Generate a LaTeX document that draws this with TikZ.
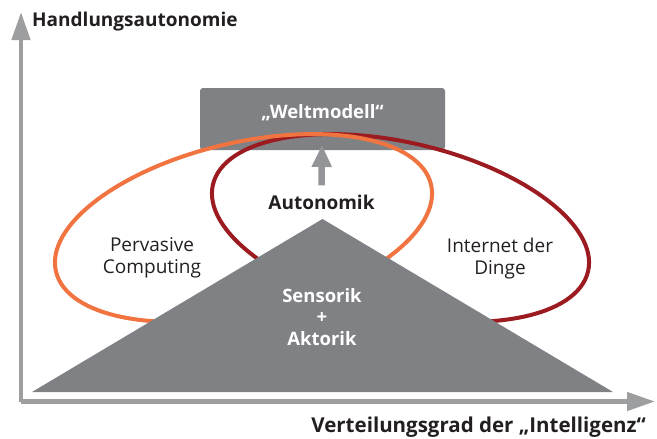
\documentclass[tikz,border=0pt]{standalone}
\usepackage{fontspec}
\setmainfont{Open Sans}
\usetikzlibrary{arrows.meta,shapes.geometric}

\definecolor{boxgray}{RGB}{128,129,132}
\definecolor{axisgray}{RGB}{157,158,160}
\definecolor{arrowgray}{RGB}{147,149,152}
\definecolor{pcorange}{RGB}{240,115,64}
\definecolor{iotred}{RGB}{155,27,32}
\definecolor{labeltext}{RGB}{35,31,32}

\tikzset{
  axisline/.style={axisgray, line width=4.5pt, line join=miter,
    -{Triangle[length=28pt,width=18pt]}},
  zone/.style={draw, ellipse, line width=4pt, fill=none,
    minimum width=385pt, minimum height=171pt, inner sep=0pt},
  plainlabel/.style={text=labeltext, font=\fontsize{19}{21.5}\selectfont,
    align=center, inner sep=0pt},
  boldlabel/.style={text=labeltext, font=\fontsize{19}{21.5}\selectfont\bfseries,
    inner sep=0pt},
  whitelabel/.style={text=white, font=\fontsize{18.5}{21.5}\selectfont\bfseries,
    align=center, inner sep=0pt},
  worldbox/.style={fill=boxgray, rounded corners=3pt, minimum width=245pt,
    minimum height=62pt, inner sep=0pt},
  uparrow/.style={arrowgray, line width=6.5pt,
    -{Triangle[length=22pt,width=19pt]}}
}

\begin{document}
\begin{tikzpicture}[x=1pt,y=-1pt]
\useasboundingbox (0,0) rectangle (657,439);

% axes
\coordinate (origin) at (21,401.5);
\coordinate (ytip) at (21,12);
\coordinate (xtip) at (655,401.5);
\draw[axisline] (origin) -- (ytip);
\draw[axisline] (origin) -- (xtip);
\node[boldlabel, anchor=base west] (yname) at (32,27) {Handlungsautonomie};
\node[boldlabel, anchor=base east, font=\fontsize{20.5}{24}\selectfont\bfseries]
  (xname) at (646,432) {Verteilungsgrad der „Intelligenz“};

% world model box
\node[worldbox] (weltbox) at (322.5,119) {};
\node[whitelabel, anchor=base] (weltmodell) at (322.5,118) {„Weltmodell“};

% the two overlapping zones
\node[zone, draw=iotred, rotate=-13] (iot) at (400.5,228) {};
\node[zone, draw=pcorange, rotate=13] (pc) at (243.5,228) {};

% sensing and actuation base
\coordinate (baseL) at (32,392);
\coordinate (apex) at (322.5,219);
\coordinate (baseR) at (613,392);
\fill[boxgray] (baseL) -- (apex) -- (baseR) -- cycle;

% labels (multi-line nodes are anchored on their last baseline)
\node[plainlabel, anchor=base] (pclabel) at (152,273) {Pervasive\\Computing};
\node[plainlabel, anchor=base] (iotlabel) at (500,274) {Internet der\\Dinge};
\node[boldlabel, anchor=base] (autonomik) at (321.5,209) {Autonomik};
\node[whitelabel, anchor=base] (sensorik) at (322,345) {Sensorik\\+\\Aktorik};

% autonomy feeds the world model
\coordinate (arrowtip) at (322,145);
\draw[uparrow] ([yshift=9pt]autonomik.north) -- (arrowtip);
\end{tikzpicture}
\end{document}
